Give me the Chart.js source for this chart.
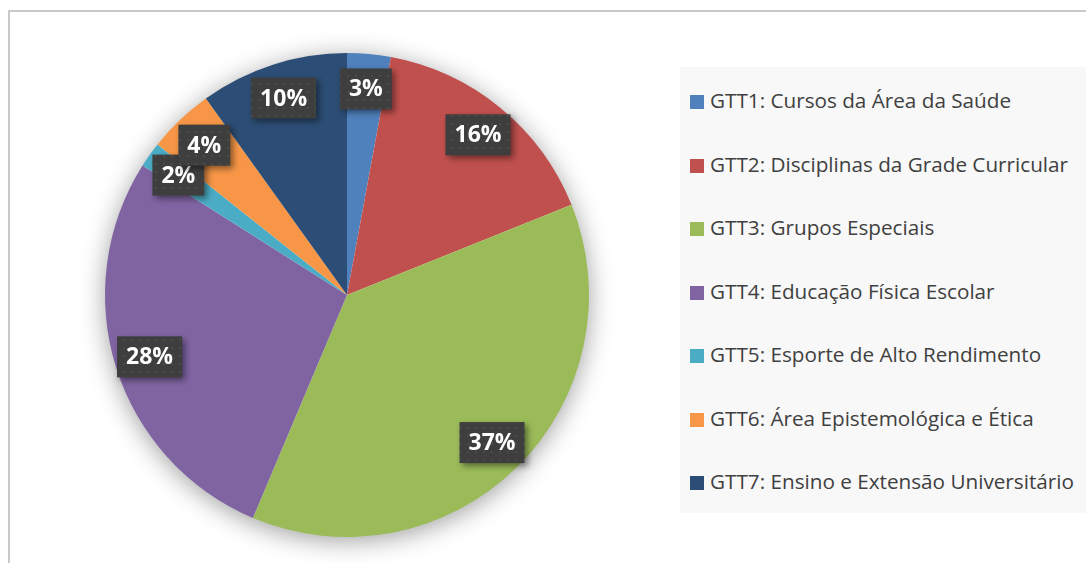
<!DOCTYPE html>
<html>
<head>
<meta charset="utf-8">
<script src="https://cdn.jsdelivr.net/npm/chart.js@4.4.0/dist/chart.umd.min.js"></script>
<style>
  body { margin: 0; background: #fff; overflow: hidden; }
  #wrap { position: relative; width: 1086px; height: 563px; }
  #frame { position: absolute; left: 8px; top: 10px; width: 1100px; height: 600px; border: 2px solid #c9c9c9; box-sizing: border-box; }
  #pie { position: absolute; left: 0; top: 0; }
  #legend { position: absolute; left: 680px; top: 67px; width: 420px; height: 446px; background: #f8f8f8; }
  .item { position: absolute; left: 10px; height: 26px; line-height: 26px; font-family: "Open Sans", sans-serif; font-size: 20.7px; color: #404040; white-space: nowrap; }
  .item span.box { display: inline-block; width: 14px; height: 14px; margin-right: 6px; vertical-align: -1px; }
</style>
</head>
<body>
<div id="wrap">
  <div id="frame"></div>
  <canvas id="pie" width="1086" height="563"></canvas>
  <div id="legend"></div>
</div>
<script>
'use strict';

const labels = [
  'GTT1: Cursos da Área da Saúde',
  'GTT2: Disciplinas da Grade Curricular',
  'GTT3: Grupos Especiais',
  'GTT4: Educação Física Escolar',
  'GTT5: Esporte de Alto Rendimento',
  'GTT6: Área Epistemológica e Ética',
  'GTT7: Ensino e Extensão Universitário',
];
const values = [2.9, 16, 37.4, 27.6, 1.7, 4.4, 9.9];
const colors = ['#4f81bd', '#c0504d', '#9bbb59', '#8064a2', '#4bacc6', '#f79646', '#2c4d75'];

// legend built from the same arrays
const legendEl = document.getElementById('legend');
labels.forEach((name, i) => {
  const d = document.createElement('div');
  d.className = 'item';
  d.style.top = (20 + i * 63.5) + 'px';
  d.innerHTML = '<span class="box" style="background:' + colors[i] + '"></span>' + name;
  legendEl.appendChild(d);
});

// dotted dark pattern for the label boxes
function makePattern(ctx) {
  const c = document.createElement('canvas');
  c.width = 8; c.height = 8;
  const p = c.getContext('2d');
  p.fillStyle = '#3e3e3e';
  p.fillRect(0, 0, 8, 8);
  p.fillStyle = '#4a4a4a';
  p.fillRect(3, 3, 2, 2);
  return ctx.createPattern(c, 'repeat');
}

const pieShadow = {
  id: 'pieShadow',
  beforeDatasetsDraw(chart) {
    const arc = chart.getDatasetMeta(0).data[0];
    if (!arc) return;
    const ctx = chart.ctx;
    ctx.save();
    ctx.shadowColor = 'rgba(0,0,0,0.4)';
    ctx.shadowBlur = 26;
    ctx.shadowOffsetY = 4;
    ctx.beginPath();
    ctx.arc(arc.x, arc.y, arc.outerRadius - 1, 0, Math.PI * 2);
    ctx.fillStyle = '#ffffff';
    ctx.fill();
    ctx.restore();
  },
};

const pctLabels = {
  id: 'pctLabels',
  afterDatasetsDraw(chart) {
    const ctx = chart.ctx;
    const total = values.reduce((a, b) => a + b, 0);
    const pattern = makePattern(ctx);
    chart.getDatasetMeta(0).data.forEach((arc, i) => {
      const p = arc.getProps(['x', 'y', 'startAngle', 'endAngle', 'outerRadius']);
      const mid = (p.startAngle + p.endAngle) / 2;
      const r = p.outerRadius * 0.855;
      const cx = p.x + Math.cos(mid) * r;
      const cy = p.y + Math.sin(mid) * r;
      const txt = Math.round(values[i] / total * 100) + '%';
      ctx.save();
      ctx.font = 'bold 23px "Open Sans", sans-serif';
      const w = ctx.measureText(txt).width + 18;
      const h = 41;
      ctx.shadowColor = 'rgba(0,0,0,0.45)';
      ctx.shadowBlur = 6;
      ctx.shadowOffsetX = 3;
      ctx.shadowOffsetY = 3;
      ctx.fillStyle = pattern;
      ctx.fillRect(cx - w / 2, cy - h / 2, w, h);
      ctx.shadowColor = 'transparent';
      ctx.fillStyle = '#ffffff';
      ctx.textAlign = 'center';
      ctx.textBaseline = 'middle';
      ctx.fillText(txt, cx, cy + 1);
      ctx.restore();
    });
  },
};

new Chart(document.getElementById('pie'), {
  type: 'pie',
  data: {
    labels: labels,
    datasets: [
      {
        data: values,
        backgroundColor: colors,
        borderWidth: 0,
      },
    ],
  },
  options: {
    responsive: false,
    animation: false,
    layout: {
      padding: { left: 105, right: 497, top: 53, bottom: 26 },
    },
    plugins: {
      legend: { display: false },
      tooltip: { enabled: false },
    },
  },
  plugins: [pieShadow, pctLabels],
});
</script>
</body>
</html>
